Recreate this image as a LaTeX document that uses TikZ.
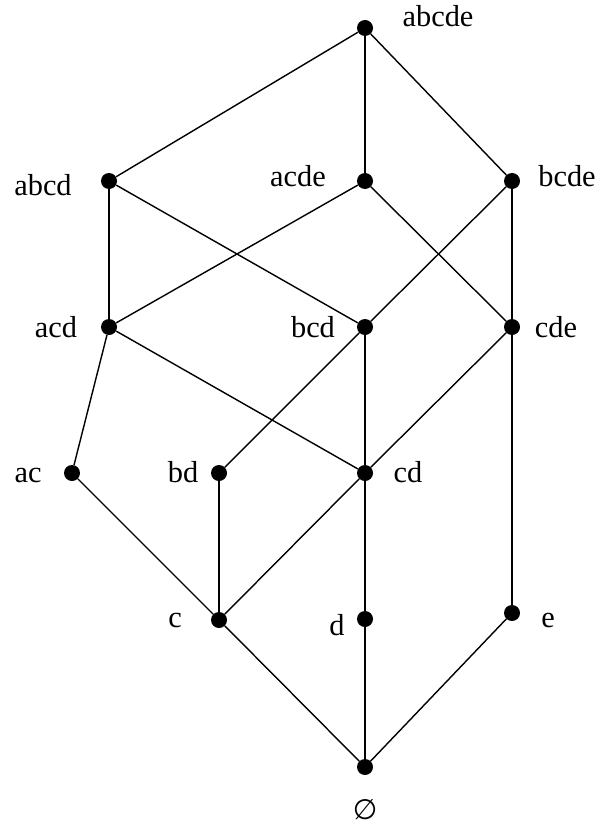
\documentclass[tikz,border=0pt]{standalone}
\usepackage{fontspec}
\setmainfont{Liberation Serif}
\newfontfamily\symfont{DejaVu Sans}
\begin{document}
\begin{tikzpicture}[x=0.025cm,y=-0.025cm,
  vert/.style={circle,fill=black,inner sep=0pt,minimum size=0.4cm},
  lbl/.style={anchor=base,inner sep=0pt,font=\fontsize{21.6}{26}\selectfont},
  edge/.style={line width=1pt}]
\useasboundingbox (0,0) rectangle (601,827);
% elements of the lattice
\node[vert] (abcde) at (365,28) {};
\node[vert] (abcd) at (109,181) {};
\node[vert] (acde) at (365,181) {};
\node[vert] (bcde) at (512,181) {};
\node[vert] (acd) at (109,327) {};
\node[vert] (bcd) at (365,327) {};
\node[vert] (cde) at (512,327) {};
\node[vert] (ac) at (72,473) {};
\node[vert] (bd) at (219,473) {};
\node[vert] (cd) at (365,473) {};
\node[vert] (c) at (219,620) {};
\node[vert] (d) at (365,619) {};
\node[vert] (e) at (512,613) {};
\node[vert] (empty) at (365,767) {};

% labels
\node[lbl] (l-abcde) at (438,27) {abcde};
\node[lbl] (l-abcd) at (43,195) {abcd};
\node[lbl] (l-acde) at (298,187) {acde};
\node[lbl] (l-bcde) at (567,187) {bcde};
\node[lbl] (l-acd) at (56,337) {acd};
\node[lbl] (l-bcd) at (313,337) {bcd};
\node[lbl] (l-cde) at (556,337) {cde};
\node[lbl] (l-ac) at (28,482) {ac};
\node[lbl] (l-bd) at (183,482) {bd};
\node[lbl] (l-cd) at (408,482) {cd};
\node[lbl] (l-c) at (175,627) {c};
\node[lbl] (l-d) at (337,635) {d};
\node[lbl] (l-e) at (548,627) {e};
\node[font=\fontsize{20}{24}\selectfont\symfont] (l-empty) at (365,810) {∅};

% covering relations
\draw[edge] (abcde) -- (abcd);
\draw[edge] (abcde) -- (acde);
\draw[edge] (abcde) -- (bcde);
\draw[edge] (abcd) -- (acd);
\draw[edge] (abcd) -- (bcd);
\draw[edge] (acde) -- (acd);
\draw[edge] (acde) -- (cde);
\draw[edge] (bcde) -- (bcd);
\draw[edge] (bcde) -- (cde);
\draw[edge] (acd) -- (ac);
\draw[edge] (acd) -- (cd);
\draw[edge] (bcd) -- (bd);
\draw[edge] (bcd) -- (cd);
\draw[edge] (cde) -- (cd);
\draw[edge] (cde) -- (e);
\draw[edge] (ac) -- (c);
\draw[edge] (bd) -- (c);
\draw[edge] (cd) -- (c);
\draw[edge] (cd) -- (d);
\draw[edge] (c) -- (empty);
\draw[edge] (d) -- (empty);
\draw[edge] (e) -- (empty);
\end{tikzpicture}
\end{document}
